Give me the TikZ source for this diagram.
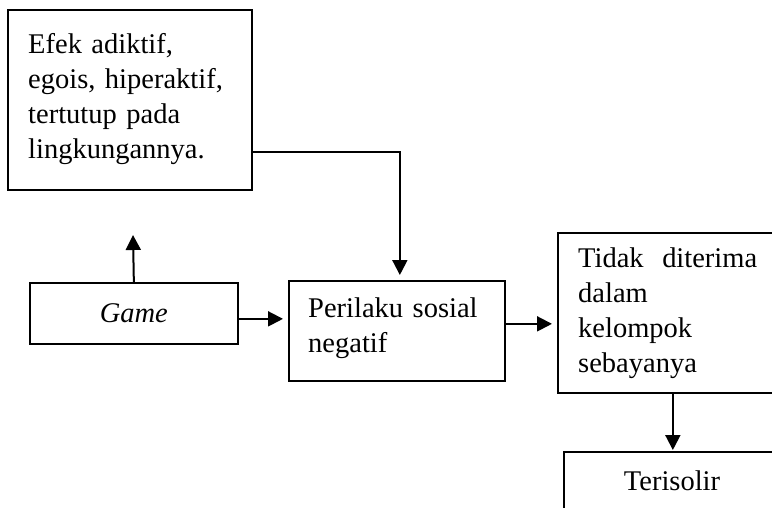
\documentclass[tikz,border=0pt]{standalone}
\usepackage{fontspec}
\setmainfont{Liberation Serif}
\usetikzlibrary{arrows.meta,calc}
\tikzset{
  box/.style={draw=black, line width=1.7pt, rectangle, inner sep=0pt, anchor=north west},
  txt/.style={inner sep=0pt, align=left, font=\fontsize{28.5}{35}\selectfont},
  arr/.style={draw=black, line width=2pt, -{Triangle[length=15pt,width=15pt]}},
}
\begin{document}
\begin{tikzpicture}[x=1pt,y=-1pt]
\useasboundingbox (0,0) rectangle (772,507);
\clip (0,0) rectangle (772,507);
% boxes
\node[box, minimum width=244pt, minimum height=180pt] (efek) at (7,9) {};
\node[box, minimum width=208pt, minimum height=61pt, font=\fontsize{28.5}{35}\selectfont\itshape] (game) at (29,282) {Game};
\node[box, minimum width=216pt, minimum height=100pt] (perilaku) at (288,280) {};
\node[box, minimum width=230pt, minimum height=160pt] (tidak) at (557,232) {};
\node[box, minimum width=218pt, minimum height=90pt] (teri) at (563,451) {};
% texts
\node[txt, text width=230pt, anchor=base west] (efektxt) at (28,53) {Efek adiktif,\\egois, hiperaktif,\\tertutup pada\\lingkungannya.};
\node[txt, text width=200pt, anchor=base west] (perilakutxt) at (308,317) {Perilaku sosial\\negatif};
\node[txt, text width=179pt, anchor=base west] (tidaktxt) at (578,267) {Tidak\hfill diterima\\dalam\\kelompok\\sebayanya};
\node[txt, anchor=base] (teritxt) at (672,490) {Terisolir};
% connectors
\coordinate (gameup) at (133,235);
\draw[arr] (game.north) -- (gameup);
\draw[arr, shorten >=5pt] ($(efek.south east)+(0,-39)$) coordinate (e1) -| ($(perilaku.north)+(3,0)$);
\draw[arr, shorten >=5pt] ($(game.east)+(0,5.5)$) coordinate (g1) -- (g1 -| perilaku.west);
\draw[arr, shorten >=5pt] ($(perilaku.east)+(0,-7)$) coordinate (p1) -- (p1 -| tidak.west);
\draw[arr, shorten >=1pt] (tidak.south) -- (teri.north);
\end{tikzpicture}
\end{document}
